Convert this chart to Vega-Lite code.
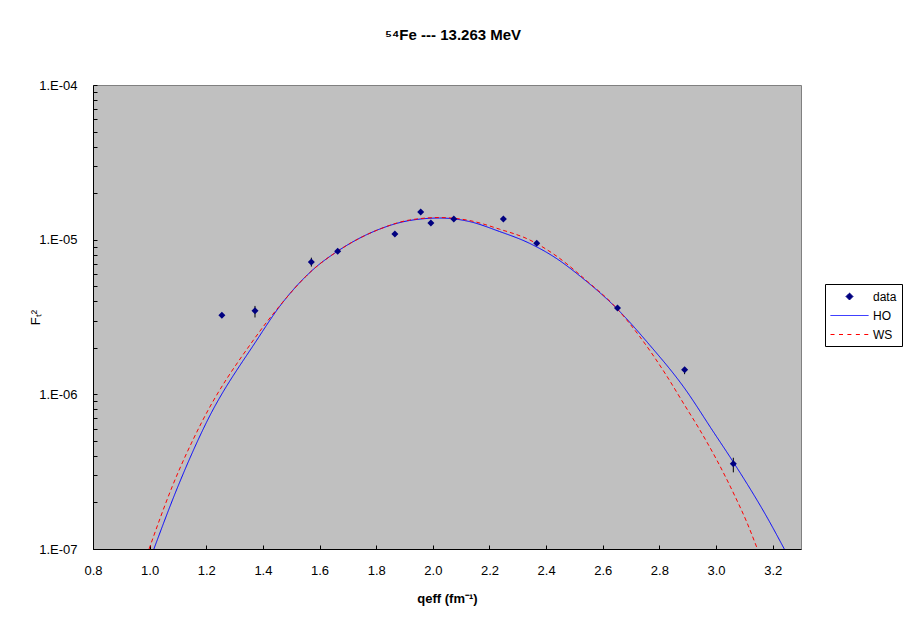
{
  "$schema": "https://vega.github.io/schema/vega-lite/v6.json",
  "autosize": {"type": "none"},
  "width": 708,
  "height": 464,
  "padding": {"left": 93, "top": 85, "right": 110, "bottom": 74},
  "background": "white",
  "view": {"fill": "#C0C0C0", "stroke": "#808080", "strokeWidth": 1},
  "title": {"text": "⁵⁴Fe --- 13.263 MeV", "font": "Liberation Sans", "fontSize": 15, "fontWeight": "bold", "color": "black", "anchor": "middle", "baseline": "alphabetic", "offset": 24, "dx": 6},
  "config": {
    "font": "Liberation Sans",
    "axis": {"grid": false, "domainColor": "black", "tickColor": "black", "labelColor": "black", "titleColor": "black", "labelFont": "Liberation Sans", "labelFontSize": 13, "titleFont": "Liberation Sans", "titleFontSize": 13, "tickSize": -4, "labelFlush": false, "labelOverlap": false, "labelBound": false, "domainWidth": 1, "tickWidth": 1},
    "legend": {"orient": "none", "legendX": 732, "legendY": 199, "fillColor": "white", "strokeColor": "black", "padding": 5, "labelFont": "Liberation Sans", "labelFontSize": 12, "labelColor": "black", "symbolSize": 196, "symbolStrokeWidth": 1, "rowPadding": 5, "labelOffset": 16, "symbolOffset": 12}
  },
  "datasets": {
    "pts": [
      {"q": 1.255, "F2": 3.25e-6, "lo": null, "hi": null},
      {"q": 1.372, "F2": 3.47e-6, "lo": 3.14e-6, "hi": 3.73e-6},
      {"q": 1.571, "F2": 7.16e-6, "lo": 6.70e-6, "hi": 7.65e-6},
      {"q": 1.664, "F2": 8.43e-6, "lo": null, "hi": null},
      {"q": 1.866, "F2": 1.09e-5, "lo": null, "hi": null},
      {"q": 1.957, "F2": 1.51e-5, "lo": null, "hi": null},
      {"q": 1.993, "F2": 1.28e-5, "lo": null, "hi": null},
      {"q": 2.074, "F2": 1.36e-5, "lo": null, "hi": null},
      {"q": 2.249, "F2": 1.36e-5, "lo": null, "hi": null},
      {"q": 2.367, "F2": 9.49e-6, "lo": null, "hi": null},
      {"q": 2.652, "F2": 3.61e-6, "lo": null, "hi": null},
      {"q": 2.889, "F2": 1.44e-6, "lo": 1.35e-6, "hi": 1.50e-6},
      {"q": 3.061, "F2": 3.56e-7, "lo": 3.13e-7, "hi": 3.89e-7}
    ],
    "curves": [
      {"series": "HO", "q": 1.015, "F2": 1.0e-7},
      {"series": "HO", "q": 1.100, "F2": 2.54e-7},
      {"series": "HO", "q": 1.200, "F2": 6.55e-7},
      {"series": "HO", "q": 1.379, "F2": 2.25e-6},
      {"series": "HO", "q": 1.459, "F2": 3.70e-6},
      {"series": "HO", "q": 1.576, "F2": 6.38e-6},
      {"series": "HO", "q": 1.664, "F2": 8.43e-6},
      {"series": "HO", "q": 1.812, "F2": 1.17e-5},
      {"series": "HO", "q": 1.918, "F2": 1.33e-5},
      {"series": "HO", "q": 2.023, "F2": 1.38e-5},
      {"series": "HO", "q": 2.129, "F2": 1.31e-5},
      {"series": "HO", "q": 2.235, "F2": 1.13e-5},
      {"series": "HO", "q": 2.341, "F2": 9.48e-6},
      {"series": "HO", "q": 2.435, "F2": 7.59e-6},
      {"series": "HO", "q": 2.523, "F2": 5.75e-6},
      {"series": "HO", "q": 2.652, "F2": 3.55e-6},
      {"series": "HO", "q": 2.764, "F2": 2.10e-6},
      {"series": "HO", "q": 2.888, "F2": 1.10e-6},
      {"series": "HO", "q": 2.988, "F2": 5.82e-7},
      {"series": "HO", "q": 3.066, "F2": 3.53e-7},
      {"series": "HO", "q": 3.182, "F2": 1.58e-7},
      {"series": "HO", "q": 3.241, "F2": 1.0e-7},
      {"series": "WS", "q": 0.998, "F2": 1.0e-7},
      {"series": "WS", "q": 1.080, "F2": 2.54e-7},
      {"series": "WS", "q": 1.183, "F2": 6.55e-7},
      {"series": "WS", "q": 1.367, "F2": 2.25e-6},
      {"series": "WS", "q": 1.459, "F2": 3.73e-6},
      {"series": "WS", "q": 1.576, "F2": 6.38e-6},
      {"series": "WS", "q": 1.664, "F2": 8.43e-6},
      {"series": "WS", "q": 1.812, "F2": 1.17e-5},
      {"series": "WS", "q": 1.918, "F2": 1.34e-5},
      {"series": "WS", "q": 2.023, "F2": 1.39e-5},
      {"series": "WS", "q": 2.129, "F2": 1.33e-5},
      {"series": "WS", "q": 2.235, "F2": 1.17e-5},
      {"series": "WS", "q": 2.341, "F2": 9.98e-6},
      {"series": "WS", "q": 2.435, "F2": 7.87e-6},
      {"series": "WS", "q": 2.546, "F2": 5.37e-6},
      {"series": "WS", "q": 2.642, "F2": 3.72e-6},
      {"series": "WS", "q": 2.730, "F2": 2.37e-6},
      {"series": "WS", "q": 2.823, "F2": 1.34e-6},
      {"series": "WS", "q": 2.888, "F2": 8.57e-7},
      {"series": "WS", "q": 2.941, "F2": 5.96e-7},
      {"series": "WS", "q": 3.004, "F2": 3.72e-7},
      {"series": "WS", "q": 3.066, "F2": 2.21e-7},
      {"series": "WS", "q": 3.108, "F2": 1.50e-7},
      {"series": "WS", "q": 3.146, "F2": 1.0e-7}
    ]
  },
  "layer": [
    {
      "data": {"name": "curves"},
      "mark": {"type": "line", "strokeWidth": 1, "clip": true, "interpolate": "monotone"},
      "encoding": {
        "x": {"field": "q", "type": "quantitative", "title": "qeff (fm⁻¹)", "scale": {"domain": [0.8, 3.3], "nice": false, "zero": false},
          "axis": {"titleFontWeight": "bold", "values": [0.8, 0.9, 1.0, 1.1, 1.2, 1.3, 1.4, 1.5, 1.6, 1.7, 1.8, 1.9, 2.0, 2.1, 2.2, 2.3, 2.4, 2.5, 2.6, 2.7, 2.8, 2.9, 3.0, 3.1, 3.2],
            "labelExpr": "round(datum.value*10) % 2 == 0 ? format(datum.value, '.1f') : ''", "labelPadding": 19, "titleY": 49, "titleBaseline": "middle"}},
        "y": {"field": "F2", "type": "quantitative", "title": "Fₜ²", "scale": {"type": "log", "domain": [1e-7, 1e-4], "nice": false},
          "axis": {"titleFontWeight": "normal", "values": [1e-7, 2e-7, 3e-7, 4e-7, 5e-7, 6e-7, 7e-7, 8e-7, 9e-7, 1e-6, 2e-6, 3e-6, 4e-6, 5e-6, 6e-6, 7e-6, 8e-6, 9e-6, 1e-5, 2e-5, 3e-5, 4e-5, 5e-5, 6e-5, 7e-5, 8e-5, 9e-5, 1e-4],
            "labelExpr": "abs(log(datum.value)/LN10 - round(log(datum.value)/LN10)) < 0.001 ? '1.E-0' + (-round(log(datum.value)/LN10)) : ''", "labelPadding": 20, "titleX": -58, "titleY": 232, "titleAngle": -90, "titleBaseline": "middle", "titleAlign": "center"}},
        "color": {"field": "series", "type": "nominal", "scale": {"domain": ["data", "HO", "WS"], "range": ["#000080", "#0000FF", "#FF0000"]}, "legend": {"title": null, "encode": {"symbols": {"update": {"stroke": {"scale": "color", "field": "value"}, "strokeDash": {"value": [1, 0]}}}}}},
        "strokeDash": {"field": "series", "type": "nominal", "scale": {"domain": ["data", "HO", "WS"], "range": [[1, 0], [1, 0], [4, 3]]}, "legend": null}
      }
    },
    {
      "data": {"name": "pts"},
      "transform": [{"filter": "isValid(datum.lo)"}],
      "mark": {"type": "rule", "color": "black", "strokeWidth": 1},
      "encoding": {
        "x": {"field": "q", "type": "quantitative", "title": "qeff (fm⁻¹)", "scale": {"domain": [0.8, 3.3], "nice": false, "zero": false}},
        "y": {"field": "lo", "type": "quantitative", "title": "Fₜ²", "scale": {"type": "log", "domain": [1e-7, 1e-4], "nice": false}},
        "y2": {"field": "hi"}
      }
    },
    {
      "data": {"name": "pts"},
      "transform": [{"calculate": "'data'", "as": "series"}],
      "mark": {"type": "point", "filled": true, "size": 196, "opacity": 1},
      "encoding": {
        "x": {"field": "q", "type": "quantitative", "title": "qeff (fm⁻¹)", "scale": {"domain": [0.8, 3.3], "nice": false, "zero": false}},
        "y": {"field": "F2", "type": "quantitative", "title": "Fₜ²", "scale": {"type": "log", "domain": [1e-7, 1e-4], "nice": false}},
        "color": {"field": "series", "type": "nominal", "scale": {"domain": ["data", "HO", "WS"], "range": ["#000080", "#0000FF", "#FF0000"]}, "legend": {"title": null, "encode": {"symbols": {"update": {"stroke": {"scale": "color", "field": "value"}, "strokeDash": {"value": [1, 0]}}}}}},
        "shape": {"field": "series", "type": "nominal", "scale": {"domain": ["data", "HO", "WS"], "range": ["M0,-0.5L0.5,0L0,0.5L-0.5,0Z", "M-2.71,0H2.71", "M-2.71,0H-2.11M-1.5,0H-0.9M-0.3,0H0.3M0.91,0H1.51M2.11,0H2.71"]}, "legend": {"title": null, "encode": {"symbols": {"update": {"stroke": {"scale": "color", "field": "value"}, "strokeDash": {"value": [1, 0]}}}}}}
      }
    }
  ]
}
